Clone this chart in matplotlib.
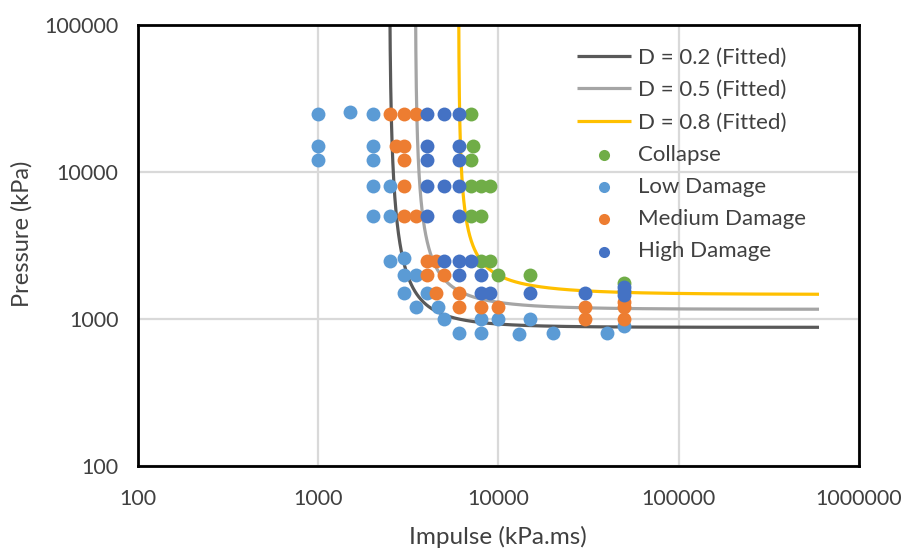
import numpy as np
import matplotlib
matplotlib.use("Agg")
import matplotlib.pyplot as plt
from matplotlib.ticker import FixedLocator, FixedFormatter, NullLocator

plt.rcParams['font.family'] = ['Lato', 'DejaVu Sans']

# ---- data ----
x_ticks = [100, 1000, 10000, 100000, 1000000]
x_tick_labels = ["100", "1000", "10000", "100000", "1000000"]
y_ticks = [100, 1000, 10000, 100000]
y_tick_labels = ["100", "1000", "10000", "100000"]

collapse_I = [7000, 7200, 7000, 7000, 8000, 9000, 7000, 8000, 8000, 9000, 10000, 15000, 50000]
collapse_P = [25000, 15000, 12000, 8000, 8000, 8000, 5000, 5000, 2500, 2500, 2000, 2000, 1750]

low_I = [1000, 1500, 2000, 1000, 2000, 1000, 2000, 2000, 2500, 2000, 2500,
         2500, 3000, 3000, 3500, 3000, 4000, 3500, 4600,
         5000, 8000, 10000, 15000, 50000,
         6000, 8000, 13000, 20000, 40000]
low_P = [25000, 25500, 25000, 15000, 15000, 12000, 12000, 8000, 8000, 5000, 5000,
         2500, 2600, 2000, 2000, 1500, 1500, 1200, 1200,
         1000, 1000, 1000, 1000, 900,
         800, 800, 790, 800, 800]

med_I = [2500, 3000, 3500, 2700, 3000, 3000, 3000, 3000, 3500,
         4000, 4500, 4000, 5000, 4500, 6000, 6000, 8000, 10000,
         30000, 30000, 50000, 50000, 50000]
med_P = [25000, 25000, 25000, 15000, 15000, 12000, 8000, 5000, 5000,
         2500, 2500, 2000, 2000, 1500, 1500, 1200, 1200, 1200,
         1200, 1000, 1300, 1200, 1000]

high_I = [4000, 5000, 6000, 4000, 6000, 4000, 6000, 4000, 5000, 6000, 4000, 6000,
          5000, 6000, 7000, 6000, 8000, 8000, 9000, 15000, 30000, 50000, 50000, 50000]
high_P = [25000, 25000, 25000, 15000, 15000, 12000, 12000, 8000, 8000, 8000, 5000, 5000,
          2500, 2500, 2500, 2000, 2000, 1500, 1500, 1500, 1500, 1450, 1550, 1650]

# fitted P-I curves: P = P0 + A / (I - I0)^n
fit_labels = ["D = 0.2 (Fitted)", "D = 0.5 (Fitted)", "D = 0.8 (Fitted)"]
fit_I0 = [2480, 3450, 6000]
fit_P0 = [878, 1165, 1470]
fit_A = [5.0e6, 3.25e6, 2.05e6]
fit_n = [1.3, 1.15, 1.0]
fit_Imax = 600000
fit_colors = ["#595959", "#A5A5A5", "#FFC000"]

# ---- figure ----
fig = plt.figure(figsize=(9.04, 5.48), dpi=100)
ax = fig.add_axes([138/904, 1-466/548, (859-138)/904, (466-25)/548])
ax.set_xscale('log')
ax.set_yscale('log')
ax.set_xlim(100, 1000000)
ax.set_ylim(100, 100000)

for I0, P0, A, n, c, lab in zip(fit_I0, fit_P0, fit_A, fit_n, fit_colors, fit_labels):
    I = I0 + np.logspace(0, np.log10(fit_Imax - I0), 600)
    P = P0 + A / (I - I0) ** n
    ax.plot(I, P, color=c, lw=2.3, label=lab, zorder=2, solid_capstyle='butt')

ms = 100
ax.scatter(collapse_I, collapse_P, s=ms, color="#70AD47", label="Collapse", zorder=3, linewidths=0)
ax.scatter(low_I, low_P, s=ms, color="#5B9BD5", label="Low Damage", zorder=4, linewidths=0)
ax.scatter(med_I, med_P, s=ms, color="#ED7D31", label="Medium Damage", zorder=5, linewidths=0)
ax.scatter(high_I, high_P, s=ms, color="#4472C4", label="High Damage", zorder=6, linewidths=0)

ax.xaxis.set_major_locator(FixedLocator(x_ticks))
ax.xaxis.set_major_formatter(FixedFormatter(x_tick_labels))
ax.yaxis.set_major_locator(FixedLocator(y_ticks))
ax.yaxis.set_major_formatter(FixedFormatter(y_tick_labels))
ax.xaxis.set_minor_locator(NullLocator())
ax.yaxis.set_minor_locator(NullLocator())
ax.tick_params(length=0, labelsize=15.5, colors='#404040')
ax.tick_params(axis='x', pad=16.5)
ax.tick_params(axis='y', pad=14)
ax.grid(True, color='#D9D9D9', lw=1.6, zorder=0)
ax.set_axisbelow(True)
for s in ax.spines.values():
    s.set_linewidth(2)
    s.set_color('black')
    s.set_zorder(7)

fig.text(498/904, 1-537/548, "Impulse (kPa.ms)", ha='center', va='center', fontsize=17.5, color='#404040')
fig.text(22/904, 1-234/548, "Pressure (kPa)", ha='center', va='center', rotation=90, fontsize=17, color='#404040')

leg = ax.legend(loc='upper left', bbox_to_anchor=(577/904, 1-48/548), bbox_transform=fig.transFigure,
                frameon=False, fontsize=16, handlelength=2.45, handletextpad=0.28,
                labelspacing=0.55, borderpad=0, borderaxespad=0, markerscale=0.8)
for t in leg.get_texts():
    t.set_color('#404040')

fig.savefig("out.png", dpi=100)
